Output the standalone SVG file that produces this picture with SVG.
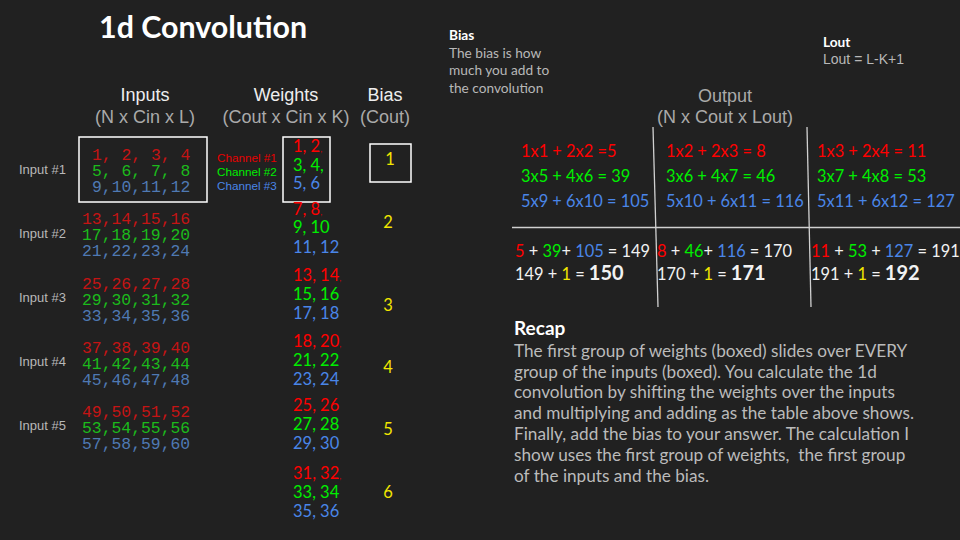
<svg xmlns="http://www.w3.org/2000/svg" width="960" height="540" viewBox="0 0 960 540">
<style>
.hdr{font-family:"Liberation Sans",Arial,sans-serif;font-size:18px;fill:#eeeeee;text-anchor:middle}
.sub{font-family:"Liberation Sans",Arial,sans-serif;font-size:18px;fill:#aaaaaa;text-anchor:middle}
.lbl{font-family:"Liberation Sans",Arial,sans-serif;font-size:13px;fill:#b8b8b8}
.mono{font-family:"Liberation Mono","DejaVu Sans Mono",monospace;font-size:16.4px}
.ir{fill:#c41414}.ig{fill:#1cba1c}.ib{fill:#4f79b3}
.w{font-family:Lato,"Noto Sans",sans-serif;font-size:16.5px}
.r{fill:#ff0000}.g{fill:#00ee00}.b{fill:#4a86e8}.y{fill:#f2e600}.wt{fill:#f2f2f2}
.ch{font-family:"Liberation Sans",Arial,sans-serif;font-size:11.7px}
.box{fill:none;stroke:#ffffff;stroke-width:1.5}
.eq{font-family:Lato,"Noto Sans",sans-serif;font-size:16.4px}
.note{font-family:Lato,"Noto Sans",sans-serif;font-size:13.7px;fill:#b8b8b8}
.bold{font-weight:bold;fill:#ffffff}
.rec{font-family:Lato,"Noto Sans",sans-serif;font-size:17.2px;fill:#bbbbbb}
.tl{stroke:#d0d0d0;stroke-width:1.3}
</style>
<rect width="960" height="540" fill="#212121"/>
<text x="99" y="38" font-family="Lato,'Noto Sans',sans-serif" font-weight="bold" font-size="30.4" fill="#ffffff">1d Convolution</text>

<g id="headers">
<text class="hdr" x="145" y="101">Inputs</text>
<text class="sub" x="145" y="123">(N x Cin x L)</text>
<text class="hdr" x="286" y="101">Weights</text>
<text class="sub" x="286" y="123">(Cout x Cin x K)</text>
<text class="hdr" x="385" y="101">Bias</text>
<text class="sub" x="385" y="123">(Cout)</text>
</g>

<g id="input-labels" class="lbl">
<text x="19" y="174">Input #1</text>
<text x="19" y="238">Input #2</text>
<text x="19" y="302">Input #3</text>
<text x="19" y="366">Input #4</text>
<text x="19" y="430">Input #5</text>
</g>

<g id="input1">
<rect class="box" x="79" y="137" width="128" height="65"/>
<text class="mono ir" x="92" y="160">1, 2, 3, 4</text>
<text class="mono ig" x="92" y="176">5, 6, 7, 8</text>
<text class="mono ib" x="92" y="192">9,10,11,12</text>
</g>
<g id="input2">
<text class="mono ir" x="82" y="224">13,14,15,16</text>
<text class="mono ig" x="82" y="240">17,18,19,20</text>
<text class="mono ib" x="82" y="256">21,22,23,24</text>
</g>
<g id="input3">
<text class="mono ir" x="82" y="289">25,26,27,28</text>
<text class="mono ig" x="82" y="305">29,30,31,32</text>
<text class="mono ib" x="82" y="321">33,34,35,36</text>
</g>
<g id="input4">
<text class="mono ir" x="82" y="353">37,38,39,40</text>
<text class="mono ig" x="82" y="369">41,42,43,44</text>
<text class="mono ib" x="82" y="385">45,46,47,48</text>
</g>
<g id="input5">
<text class="mono ir" x="82" y="417">49,50,51,52</text>
<text class="mono ig" x="82" y="433">53,54,55,56</text>
<text class="mono ib" x="82" y="449">57,58,59,60</text>
</g>

<g id="channels" class="ch">
<text x="217" y="162" fill="#e60000">Channel #1</text>
<text class="g" x="217" y="176">Channel #2</text>
<text class="b" x="217" y="190">Channel #3</text>
</g>

<g id="weights1">
<rect class="box" x="283" y="137" width="47" height="65"/>
<text class="w r" x="293" y="152">1, 2<tspan font-size="9" fill="#c00000">,</tspan></text>
<text class="w g" x="293" y="171">3, 4,</text>
<text class="w b" x="293" y="189">5, 6</text>
</g>
<g id="weights2">
<text class="w r" x="293" y="215">7, 8<tspan font-size="9" fill="#c00000">,</tspan></text>
<text class="w g" x="293" y="233">9, 10</text>
<text class="w b" x="293" y="253">11, 12</text>
</g>
<g id="weights3">
<text class="w r" x="293" y="281">13, 14<tspan font-size="9" fill="#c00000">,</tspan></text>
<text class="w g" x="293" y="300">15, 16</text>
<text class="w b" x="293" y="319">17, 18</text>
</g>
<g id="weights4">
<text class="w r" x="293" y="347">18, 20<tspan font-size="9" fill="#c00000">,</tspan></text>
<text class="w g" x="293" y="366">21, 22</text>
<text class="w b" x="293" y="385">23, 24</text>
</g>
<g id="weights5">
<text class="w r" x="293" y="411">25, 26</text>
<text class="w g" x="293" y="430">27, 28</text>
<text class="w b" x="293" y="449">29, 30</text>
</g>
<g id="weights6">
<text class="w r" x="293" y="479">31, 32<tspan font-size="9" fill="#c00000">,</tspan></text>
<text class="w g" x="293" y="498">33, 34</text>
<text class="w b" x="293" y="517">35, 36</text>
</g>

<g id="bias">
<rect class="box" x="370" y="144" width="41" height="38"/>
<text class="w y" x="390" y="165" text-anchor="middle" font-size="17">1</text>
<text class="w y" x="388" y="228" text-anchor="middle" font-size="17">2</text>
<text class="w y" x="388" y="311" text-anchor="middle" font-size="17">3</text>
<text class="w y" x="388" y="373" text-anchor="middle" font-size="17">4</text>
<text class="w y" x="388" y="435" text-anchor="middle" font-size="17">5</text>
<text class="w y" x="388" y="498" text-anchor="middle" font-size="17">6</text>
</g>

<g id="bias-note">
<text class="note bold" x="449" y="40">Bias</text>
<text class="note" x="449" y="58">The bias is how</text>
<text class="note" x="449" y="75">much you add to</text>
<text class="note" x="449" y="93">the convolution</text>
</g>

<g id="lout-note">
<text class="note bold" x="823" y="47">Lout</text>
<text x="823" y="64" font-family="'Liberation Sans',Arial,sans-serif" font-size="14" fill="#b8b8b8">Lout = L-K+1</text>
</g>

<g id="output-header">
<text class="sub" x="725" y="102">Output</text>
<text class="sub" x="725" y="123">(N x Cout x Lout)</text>
</g>

<g id="connectors">
<line class="tl" x1="512" y1="227.5" x2="960" y2="227.5"/>
<line class="tl" x1="653" y1="127" x2="658" y2="307"/>
<line class="tl" x1="807" y1="127" x2="811" y2="307" stroke="#eeeeee"/>
</g>

<g id="output-col1" class="eq">
<text class="r" x="521" y="157">1x1 + 2x2 =5</text>
<text class="g" x="521" y="182">3x5 + 4x6 = 39</text>
<text class="b" x="521" y="207">5x9 + 6x10 = 105</text>
<text x="515" y="257"><tspan class="r">5</tspan><tspan class="wt"> + </tspan><tspan class="g">39</tspan><tspan class="wt">+ </tspan><tspan class="b">105</tspan><tspan class="wt"> = 149</tspan></text>
<text x="515" y="280"><tspan class="wt">149 + </tspan><tspan class="y">1</tspan><tspan class="wt"> = </tspan><tspan class="wt" font-weight="bold" font-size="20">150</tspan></text>
</g>
<g id="output-col2" class="eq">
<text class="r" x="666" y="157">1x2 + 2x3 = 8</text>
<text class="g" x="666" y="182">3x6 + 4x7 = 46</text>
<text class="b" x="666" y="207">5x10 + 6x11 = 116</text>
<text x="657" y="257"><tspan class="r">8</tspan><tspan class="wt"> + </tspan><tspan class="g">46</tspan><tspan class="wt">+ </tspan><tspan class="b">116</tspan><tspan class="wt"> = 170</tspan></text>
<text x="657" y="280"><tspan class="wt">170 + </tspan><tspan class="y">1</tspan><tspan class="wt"> = </tspan><tspan class="wt" font-weight="bold" font-size="20">171</tspan></text>
</g>
<g id="output-col3" class="eq">
<text class="r" x="817" y="157">1x3 + 2x4 = 11</text>
<text class="g" x="817" y="182">3x7 + 4x8 = 53</text>
<text class="b" x="817" y="207">5x11 + 6x12 = 127</text>
<text x="811" y="257"><tspan class="r">11</tspan><tspan class="wt"> + </tspan><tspan class="g">53</tspan><tspan class="wt"> + </tspan><tspan class="b">127</tspan><tspan class="wt"> = 191</tspan></text>
<text x="811" y="280"><tspan class="wt">191 + </tspan><tspan class="y">1</tspan><tspan class="wt"> = </tspan><tspan class="wt" font-weight="bold" font-size="20">192</tspan></text>
</g>

<g id="recap">
<text x="514" y="335" font-family="Lato,'Noto Sans',sans-serif" font-weight="bold" font-size="19" fill="#ffffff">Recap</text>
<text class="rec" x="514" y="357">The first group of weights (boxed) slides over EVERY</text>
<text class="rec" x="514" y="378">group of the inputs (boxed). You calculate the 1d</text>
<text class="rec" x="514" y="398">convolution by shifting the weights over the inputs</text>
<text class="rec" x="514" y="419">and multiplying and adding as the table above shows.</text>
<text class="rec" x="514" y="440">Finally, add the bias to your answer. The calculation I</text>
<text class="rec" x="514" y="461">show uses the first group of weights,&#160; the first group</text>
<text class="rec" x="514" y="482">of the inputs and the bias.</text>
</g>
</svg>
